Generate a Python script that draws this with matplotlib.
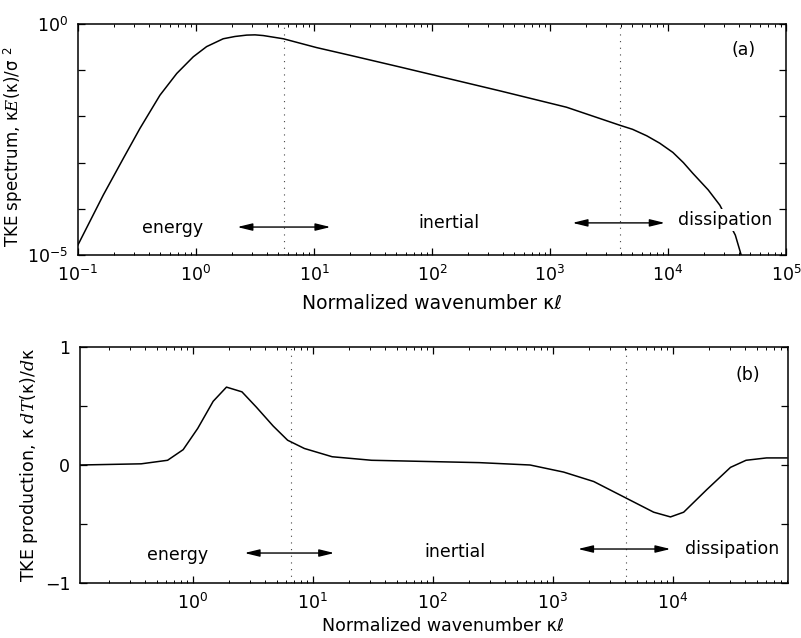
import numpy as np
import matplotlib
matplotlib.use("Agg")
import matplotlib.pyplot as plt
from matplotlib.ticker import FixedLocator, LogLocator, NullLocator, NullFormatter

plt.rcParams['font.family'] = ['DejaVu Sans']
plt.rcParams['mathtext.fontset'] = 'custom'
plt.rcParams['mathtext.rm'] = 'DejaVu Sans'
plt.rcParams['mathtext.it'] = 'DejaVu Serif:italic'

# panel (a): TKE spectrum k E(k) / sigma^2
k_a = [0.1, 0.164, 0.242, 0.335, 0.495, 0.687, 0.948, 1.23, 1.70, 2.14, 2.69,
       3.16, 3.72, 5.50, 10.5, 20.4, 53.7, 380, 1380, 3890, 5010, 6610, 8510,
       11000, 13500, 16200, 21900, 27500, 37200, 41700, 44700]
spec_a = [1.66e-5, 2.0e-4, 1.23e-3, 5.5e-3, 0.0288, 0.085, 0.195, 0.324, 0.479,
          0.537, 0.575, 0.582, 0.562, 0.479, 0.309, 0.209, 0.117, 0.0355, 0.0158,
          6.46e-3, 5.25e-3, 3.80e-3, 2.63e-3, 1.66e-3, 1.0e-3, 5.89e-4, 2.57e-4,
          1.20e-4, 2.69e-5, 1.0e-5, 5.0e-6]

# panel (b): TKE production k dT(k)/dk
k_b = [0.115, 0.372, 0.617, 0.832, 1.10, 1.48, 1.91, 2.57, 3.39, 4.68, 6.17,
       8.51, 14.5, 30.9, 245, 646, 1230, 2190, 4070, 6920, 9550, 12300,
       19100, 30200, 40700, 60300, 89100]
prod_b = [0.0, 0.01, 0.04, 0.13, 0.31, 0.54, 0.66, 0.62, 0.49, 0.33, 0.21,
          0.14, 0.07, 0.04, 0.02, 0.0, -0.06, -0.14, -0.28, -0.40, -0.44, -0.40,
          -0.21, -0.02, 0.04, 0.06, 0.06]

# range boundaries (dotted) and arrows
bounds_a = [5.6, 3900]
bounds_b = [6.6, 4100]
arrows_a = [(2.24, 13.8, 0.121), (1550, 9400, 0.139)]
arrows_b = [(2.7, 15.1, 0.127), (1620, 9550, 0.144)]

W, H = 801, 638
fig = plt.figure(figsize=(W / 100, H / 100), dpi=100)
ax1 = fig.add_axes([78 / W, 1 - 255 / H, 708 / W, 231 / H])
ax2 = fig.add_axes([80 / W, 1 - 583 / H, 708 / W, 236 / H])


def style_axes(ax):
    for s in ax.spines.values():
        s.set_linewidth(1.1)
    ax.tick_params(which='both', direction='in', top=True, right=True,
                   labelsize=12.5, pad=7)
    ax.tick_params(which='major', length=5, width=0.9)
    ax.tick_params(which='minor', length=2.5, width=0.7)


def add_arrow(ax, x0, x1, y):
    ax.annotate('', xy=(x1, y), xytext=(x0, y),
                xycoords=('data', 'axes fraction'),
                textcoords=('data', 'axes fraction'),
                arrowprops=dict(arrowstyle='<|-|>,head_length=0.9,head_width=0.22',
                                color='black', lw=1.0, shrinkA=0, shrinkB=0))


# ---- panel (a)
ax1.plot(k_a, spec_a, color='black', lw=1.1, zorder=3)
ax1.set_xscale('log')
ax1.set_yscale('log')
ax1.set_xlim(1e-1, 1e5)
ax1.set_ylim(1e-5, 1e0)
ax1.set_yticks([1e-5, 1e-4, 1e-3, 1e-2, 1e-1, 1e0])
ax1.set_yticklabels([r'$10^{-5}$', '', '', '', '', r'$10^{0}$'])
ax1.yaxis.set_minor_locator(NullLocator())
ax1.xaxis.set_major_locator(FixedLocator([1e-1, 1e0, 1e1, 1e2, 1e3, 1e4, 1e5]))
ax1.xaxis.set_minor_locator(LogLocator(base=10, subs=np.arange(2, 10), numticks=20))
ax1.xaxis.set_minor_formatter(NullFormatter())
style_axes(ax1)
for b in bounds_a:
    ax1.axvline(b, color='#444444', lw=0.8, ls=(0, (1, 5)), zorder=1)
for x0, x1, y in arrows_a:
    add_arrow(ax1, x0, x1, y)
tkw = dict(fontsize=12.5, ha='center', va='center', transform=ax1.get_xaxis_transform())
ax1.text(0.638, 0.117, 'energy', **tkw)
ax1.text(138, 0.139, 'inertial', **tkw)
ax1.text(30200, 0.152, 'dissipation', zorder=5,
         bbox=dict(facecolor='white', edgecolor='none', pad=1.5), **tkw)
ax1.text(0.94, 0.887, '(a)', fontsize=12.5, ha='center', va='center',
         transform=ax1.transAxes)
ax1.set_xlabel(r'Normalized wavenumber κℓ', fontsize=13.5)
ax1.xaxis.set_label_coords(0.50, -0.17)
ax1.set_ylabel(r'TKE spectrum, κ$E$(κ)/σ $^2$', fontsize=12)
ax1.yaxis.set_label_coords(-0.075, 0.47)

# ---- panel (b)
ax2.plot(k_b, prod_b, color='black', lw=1.1, zorder=3)
ax2.set_xscale('log')
ax2.set_xlim(0.115, 9.1e4)
ax2.set_ylim(-1, 1)
ax2.set_yticks([-1, -0.5, 0, 0.5, 1])
ax2.set_yticklabels(['−1', '', '0', '', '1'])
ax2.xaxis.set_major_locator(FixedLocator([1e0, 1e1, 1e2, 1e3, 1e4]))
ax2.xaxis.set_minor_locator(LogLocator(base=10, subs=np.arange(2, 10), numticks=20))
ax2.xaxis.set_minor_formatter(NullFormatter())
style_axes(ax2)
for b in bounds_b:
    ax2.axvline(b, color='#444444', lw=0.8, ls=(0, (1, 5)), zorder=1)
for x0, x1, y in arrows_b:
    add_arrow(ax2, x0, x1, y)
tkw = dict(fontsize=12.5, ha='center', va='center', transform=ax2.get_xaxis_transform())
ax2.text(0.75, 0.119, 'energy', **tkw)
ax2.text(152, 0.131, 'inertial', **tkw)
ax2.text(31000, 0.144, 'dissipation', **tkw)
ax2.text(0.943, 0.88, '(b)', fontsize=12.5, ha='center', va='center',
         transform=ax2.transAxes)
ax2.set_xlabel(r'Normalized wavenumber κℓ', fontsize=12.5)
ax2.xaxis.set_label_coords(0.513, -0.145)
ax2.set_ylabel(r'TKE production, κ $dT$(κ)/$d$κ', fontsize=12.5)
ax2.yaxis.set_label_coords(-0.056, 0.5)

fig.savefig('out.png', dpi=100, facecolor='white')
